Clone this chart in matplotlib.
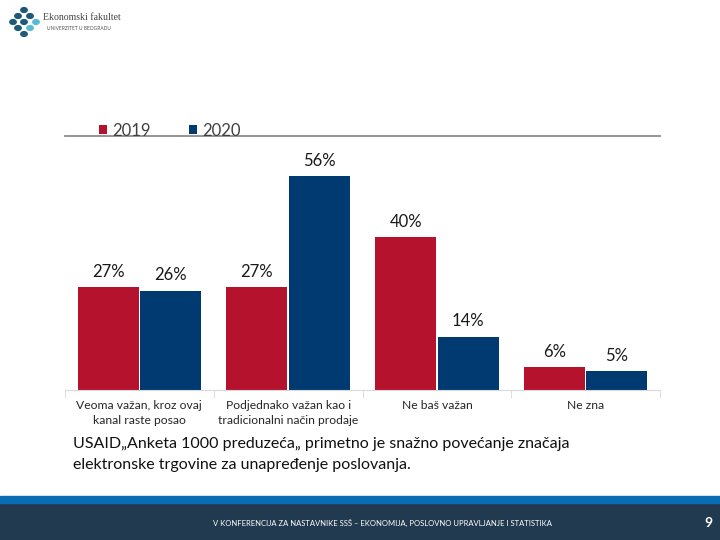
import matplotlib.pyplot as plt
import numpy as np
from matplotlib.patches import Rectangle, Circle

plt.rcParams['font.family'] = ['Lato', 'DejaVu Sans']

# podaci
kategorije = ["Veoma važan, kroz ovaj\nkanal raste posao",
              "Podjednako važan kao i\ntradicionalni način prodaje",
              "Ne baš važan",
              "Ne zna"]
v2019 = [27, 27, 40, 6]
v2020 = [26, 56, 14, 5]
godine = ["2019", "2020"]

crvena = "#b5122e"
plava = "#003a70"

fig = plt.figure(figsize=(7.2, 5.4), dpi=100)

# logo
logo_dots = [(24, 10, 0), (18, 16, 0), (30, 16, 0), (13, 22, 0), (24, 22, 0),
             (36, 22, 1), (18, 28, 0), (30, 28, 1), (24, 34, 0)]
for px, py, light in logo_dots:
    c = "#5bb9d8" if light else "#1d5a78"
    fig.add_artist(Circle((px / 720, 1 - py / 540), 3.2 / 720, color=c,
                          transform=fig.transFigure))
fig.text(43 / 720, 1 - 17 / 540, "Ekonomski fakultet", fontsize=7,
         color="#444444", va="center", family=["Liberation Serif"])
fig.text(47 / 720, 1 - 28 / 540, "UNIVERZITET U BEOGRADU", fontsize=3.5,
         color="#555555", va="center")

# grafikon
ax = fig.add_axes([65 / 720, 150 / 540, 595 / 720, 254 / 540])
x = np.arange(len(kategorije))
w = 0.41
b1 = ax.bar(x - 0.21, v2019, w, color=crvena, label=godine[0])
b2 = ax.bar(x + 0.21, v2020, w, color=plava, label=godine[1])
for bars, vals in ((b1, v2019), (b2, v2020)):
    for r, v in zip(bars, vals):
        ax.text(r.get_x() + r.get_width() / 2, v + 1.9, f"{v}%",
                ha="center", va="bottom", fontsize=12, color="#1a1a1a")

ax.set_xlim(-0.5, 3.5)
ax.set_ylim(0, 66.5)
ax.set_yticks([])
ax.set_xticks(x)
ax.set_xticklabels(kategorije, fontsize=8.7, color="#262626", linespacing=1.45)
ax.tick_params(axis="x", length=0, pad=7)
ax.set_xticks(np.arange(-0.5, 4, 1), minor=True)
ax.tick_params(axis="x", which="minor", length=6, color="#d9d9d9")
for s in ("left", "right"):
    ax.spines[s].set_visible(False)
ax.spines["bottom"].set_color("#d9d9d9")
ax.spines["top"].set_color("#8c8c8c")
ax.spines["top"].set_linewidth(1.3)

leg = ax.legend(loc="lower left", bbox_to_anchor=(0.057, 0.99), ncol=2,
                frameon=False, fontsize=12, handlelength=0.5,
                handleheight=0.5, handletextpad=0.3, columnspacing=2.3,
                borderaxespad=0, borderpad=0)
for t in leg.get_texts():
    t.set_color("#404040")

# opis
fig.text(73 / 720, 1 - 444 / 540,
         "USAID„Anketa 1000 preduzeća„ primetno je snažno povećanje značaja",
         fontsize=11.5, va="center", color="#111111")
fig.text(73 / 720, 1 - 465 / 540,
         "elektronske trgovine za unapređenje poslovanja.",
         fontsize=11.5, va="center", color="#111111")

# podnožje
fig.add_artist(Rectangle((0, 0), 1, 37 / 540, color="#223a4f",
                         transform=fig.transFigure))
fig.add_artist(Rectangle((0, 37 / 540), 1, 7 / 540, color="#0b6cb6",
                         transform=fig.transFigure))
fig.text(382 / 720, 17 / 540,
         "V KONFERENCIJA ZA NASTAVNIKE SSŠ – EKONOMIJA, POSLOVNO UPRAVLJANJE I STATISTIKA",
         fontsize=5.5, color="white", ha="center", va="center")
fig.text(708 / 720, 17 / 540, "9", fontsize=10, color="white",
         ha="center", va="center", fontweight="bold")

fig.savefig("out.png", dpi=100)
